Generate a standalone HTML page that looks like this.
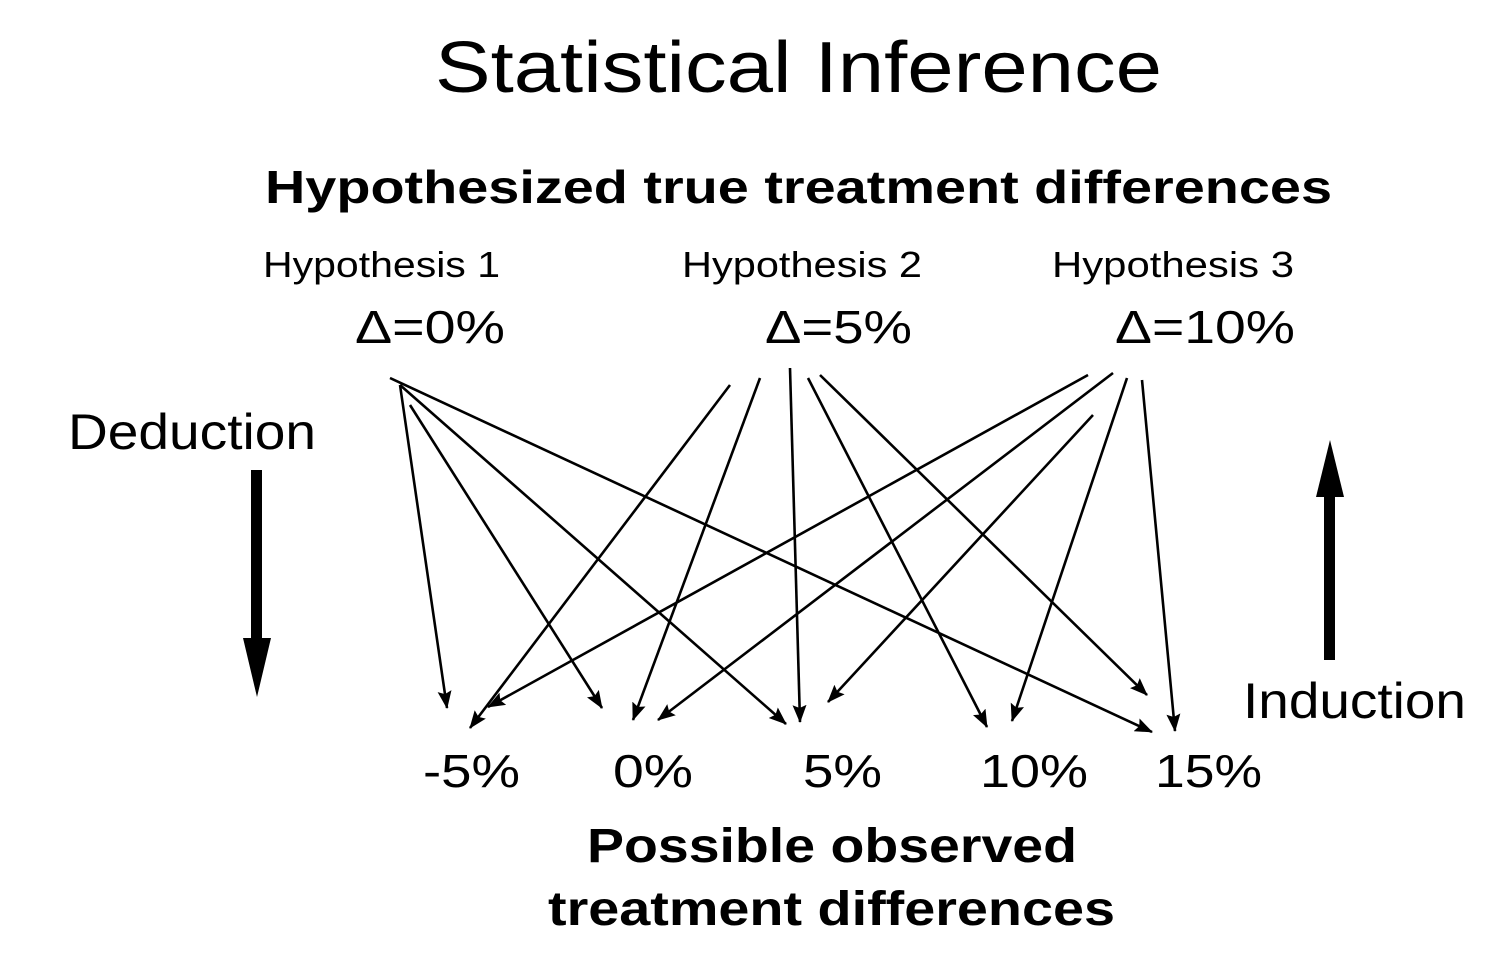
<!DOCTYPE html>
<html><head><meta charset="utf-8"><style>
html,body{margin:0;padding:0;background:#fff;}
svg{display:block;font-family:"Liberation Sans",Arial,sans-serif;}
</style></head><body>
<svg width="1488" height="966" viewBox="0 0 1488 966">
<defs>
<marker id="ah" markerWidth="18" markerHeight="14" refX="17" refY="7" orient="auto" markerUnits="userSpaceOnUse">
<path d="M0,0 L18,7 L0,14 L3,7 Z" fill="#000"/>
</marker>
</defs>
<g lengthAdjust="spacingAndGlyphs">
<text x="435" y="92" font-size="72" textLength="727" lengthAdjust="spacingAndGlyphs">Statistical Inference</text>
<text x="265" y="203" font-size="46" font-weight="bold" textLength="1067" lengthAdjust="spacingAndGlyphs">Hypothesized true treatment differences</text>
<text x="263" y="277" font-size="36" textLength="237" lengthAdjust="spacingAndGlyphs">Hypothesis 1</text>
<text x="682" y="277" font-size="36" textLength="240" lengthAdjust="spacingAndGlyphs">Hypothesis 2</text>
<text x="1052" y="277" font-size="36" textLength="242" lengthAdjust="spacingAndGlyphs">Hypothesis 3</text>
<text x="355" y="343" font-size="46" textLength="150" lengthAdjust="spacingAndGlyphs">Δ=0%</text>
<text x="765" y="343" font-size="46" textLength="147" lengthAdjust="spacingAndGlyphs">Δ=5%</text>
<text x="1115" y="343" font-size="46" textLength="180" lengthAdjust="spacingAndGlyphs">Δ=10%</text>
<text x="68" y="449" font-size="50" textLength="248" lengthAdjust="spacingAndGlyphs">Deduction</text>
<text x="1243" y="718" font-size="50" textLength="223" lengthAdjust="spacingAndGlyphs">Induction</text>
<g font-size="46">
<text x="423" y="787" textLength="97" lengthAdjust="spacingAndGlyphs">-5%</text>
<text x="613" y="787" textLength="80" lengthAdjust="spacingAndGlyphs">0%</text>
<text x="803" y="787" textLength="79" lengthAdjust="spacingAndGlyphs">5%</text>
<text x="980" y="787" textLength="108" lengthAdjust="spacingAndGlyphs">10%</text>
<text x="1155" y="787" textLength="107" lengthAdjust="spacingAndGlyphs">15%</text>
</g>
<text x="587" y="862" font-size="48" font-weight="bold" textLength="490" lengthAdjust="spacingAndGlyphs">Possible observed</text>
<text x="548" y="925" font-size="48" font-weight="bold" textLength="567" lengthAdjust="spacingAndGlyphs">treatment differences</text>
</g>
<g stroke="#000" stroke-width="2.6" fill="none" marker-end="url(#ah)">
<line x1="400" y1="385" x2="447" y2="708"/>
<line x1="410" y1="405" x2="602" y2="708"/>
<line x1="400" y1="385" x2="786" y2="724"/>
<line x1="390" y1="378" x2="1152" y2="732"/>
<line x1="730" y1="385" x2="470" y2="728"/>
<line x1="760" y1="378" x2="633" y2="720"/>
<line x1="790" y1="368" x2="800" y2="722"/>
<line x1="808" y1="378" x2="987" y2="727"/>
<line x1="820" y1="375" x2="1147" y2="695"/>
<line x1="1088" y1="375" x2="488" y2="707"/>
<line x1="1113" y1="373" x2="658" y2="720"/>
<line x1="1093" y1="415" x2="828" y2="702"/>
<line x1="1127" y1="378" x2="1012" y2="721"/>
<line x1="1142" y1="380" x2="1175" y2="731"/>
</g>
<g>
<rect x="251" y="470" width="11" height="175" fill="#000"/>
<path d="M243,638 L271,638 L257,697 Z" fill="#000"/>
</g>
<g>
<rect x="1324" y="490" width="11" height="170" fill="#000"/>
<path d="M1316,497 L1344,497 L1330,440 Z" fill="#000"/>
</g>
</svg>
</body></html>
